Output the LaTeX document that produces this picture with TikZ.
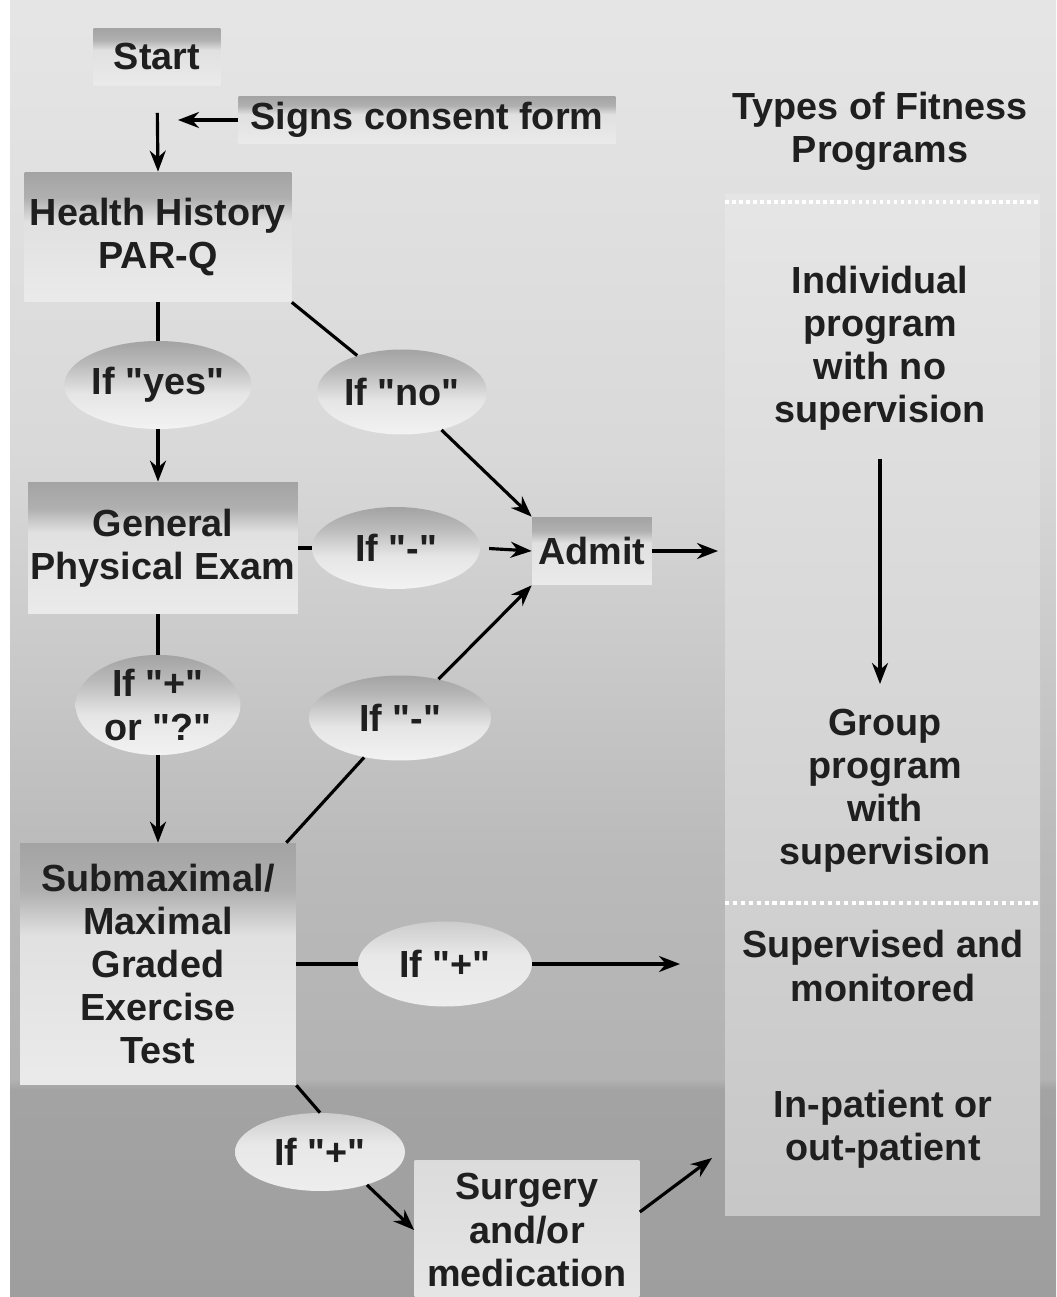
\documentclass[tikz,border=0pt]{standalone}
\usepackage{fontspec}
\setmainfont{Liberation Sans}
\usetikzlibrary{arrows.meta,shapes.geometric,calc}
\newcommand\dfont{\fontsize{21.5}{24.5}\selectfont\bfseries}
\font\qfnt="Liberation Sans/B" at 21.5pt
\newcommand\qq{{\qfnt\symbol{34}}}
\pgfdeclareverticalshading{boxshade}{100bp}{color(0bp)=(black!8); color(25bp)=(black!8); color(56bp)=(black!12); color(65bp)=(black!31); color(75bp)=(black!36); color(100bp)=(black!36)}
\pgfdeclareverticalshading{ellshade}{100bp}{color(0bp)=(black!5); color(25bp)=(black!5); color(45bp)=(black!10); color(62bp)=(black!27); color(75bp)=(black!36); color(100bp)=(black!36)}
\pgfdeclareverticalshading{ellshadel}{100bp}{color(0bp)=(black!7); color(25bp)=(black!7); color(55bp)=(black!9); color(75bp)=(black!20); color(100bp)=(black!20)}
\pgfdeclareverticalshading{bgshade}{100bp}{color(0bp)=(black!38); color(25bp)=(black!38); color(33bp)=(black!36); color(33.4bp)=(black!30); color(42bp)=(black!27); color(51bp)=(black!20); color(57.6bp)=(black!15); color(75bp)=(black!10); color(100bp)=(black!10)}
\pgfdeclareverticalshading{panelshade}{100bp}{color(0bp)=(black!22); color(25bp)=(black!22); color(75bp)=(black!10); color(100bp)=(black!10)}
\begin{document}
\begin{tikzpicture}[x=0.02cm,y=-0.02cm,
  every node/.style={font=\dfont, text=black!88, align=center, inner sep=0pt},
  pbox/.style={rectangle, shading=boxshade},
  cond/.style={ellipse, shading=ellshade},
  condl/.style={ellipse, shading=ellshadel},
  arr/.style={line width=1.8pt, -{Stealth[length=0.42cm,width=0.32cm]}},
  ln/.style={line width=1.8pt},
]
\useasboundingbox (0,0) rectangle (1056,1297);
% background
\shade[shading=bgshade] (0,0) rectangle (1056,1297);
\fill[white] (0,0) rectangle (10,1297);
\shade[shading=panelshade] (725,195) rectangle (1040,1215);
\draw[white, line width=2pt, dotted] (725,202) -- (1040,202);
\draw[white, line width=2.5pt, dotted] (725,903) -- (1040,903);

% left column nodes
\node[pbox, minimum width=2.54cm, minimum height=1.14cm] (start) at (157,57) {Start};
\node[pbox, minimum width=7.54cm, minimum height=0.96cm] (signs) at (427,120) {Signs consent form};
\node[pbox, minimum width=5.34cm, minimum height=2.6cm] (hh) at (158,237) {Health History\\PAR-Q};
\node[cond, minimum width=3.3cm, minimum height=1.76cm] (ifyes) at (158,385) {If \qq yes\qq};
\node[cond, minimum width=3.4cm, minimum height=1.7cm] (ifno) at (402,392) {If \qq no\qq};
\node[pbox, minimum width=5.4cm, minimum height=2.64cm] (gpe) at (163,548) {General\\Physical Exam};
\node[cond, minimum width=3.36cm, minimum height=1.64cm] (ifm1) at (396,548) {If \qq-\qq};
\node[pbox, minimum width=2.4cm, minimum height=1.36cm] (admit) at (592,551) {Admit};
\node[cond, minimum width=3.3cm, minimum height=1.76cm] (ifpq) at (158,705) {If \qq+\qq\\or \qq?\qq};
\node[cond, minimum width=3.64cm, minimum height=1.7cm] (ifm2) at (400,718) {If \qq-\qq};
\node[pbox, minimum width=5.52cm, minimum height=4.84cm] (sub) at (158,964) {Submaximal/\\Maximal\\Graded\\Exercise\\Test};
\node[condl, minimum width=3.48cm, minimum height=1.7cm] (ifp3) at (445,964) {If \qq+\qq};
\node[condl, minimum width=3.4cm, minimum height=1.56cm] (ifp4) at (320,1152) {If \qq+\qq};
\node[rectangle, top color=black!14, bottom color=black!10, minimum width=4.5cm, minimum height=2.8cm] (surg) at (527,1230) {Surgery\\and/or\\medication};

% right column
\node (title) at (880,131) {Types of Fitness\\Programs};
\node (indiv) at (880,348) {Individual\\program\\with no\\supervision};
\node (group) at (885,791) {Group\\program\\with\\supervision};
\node (supmon) at (883,966) {Supervised and\\monitored};
\node (inpat) at (883,1129) {In-patient or\\out-patient};

% connectors
\coordinate (cj) at (178,120);
\coordinate (admitout) at (718,551);
\coordinate (supin) at (680,964);
\coordinate (inpin) at (712,1158);

\draw[arr, shorten <=0.54cm] (start.south) -- (hh.north);
\draw[arr] (signs.west) -- (cj);
\draw[ln] (hh.south) -- (ifyes.north);
\draw[ln] (hh.south east) -- (ifno);
\draw[arr] (ifno) -- (admit.north west);
\draw[arr] (ifyes.south) -- (ifyes.south |- gpe.north);
\draw[ln] (gpe.east) -- (ifm1.west);
\draw[arr, shorten <=5pt] (ifm1.east) -- (admit.west);
\draw[arr] (admit.east) -- (admitout);
\draw[ln] (ifpq.north |- gpe.south) -- (ifpq.north);
\draw[arr] (ifpq.south) -- (sub.north);
\draw[arr] (ifm2) -- (admit.south west);
\draw[ln] ($(sub.north east)+(-10,0)$) -- (ifm2);
\draw[ln] (sub.east) -- (ifp3.west);
\draw[arr] (ifp3.east) -- (supin);
\draw[ln] (sub.south east) -- (ifp4.north);
\draw[arr] (ifp4.-35) -- (surg.west);
\draw[arr] ($(surg.east)+(0,-18)$) -- (inpin);
\draw[arr, shorten <=0.56cm, shorten >=0.5cm] (indiv.south) -- (indiv.south |- group.north);
\end{tikzpicture}
\end{document}
